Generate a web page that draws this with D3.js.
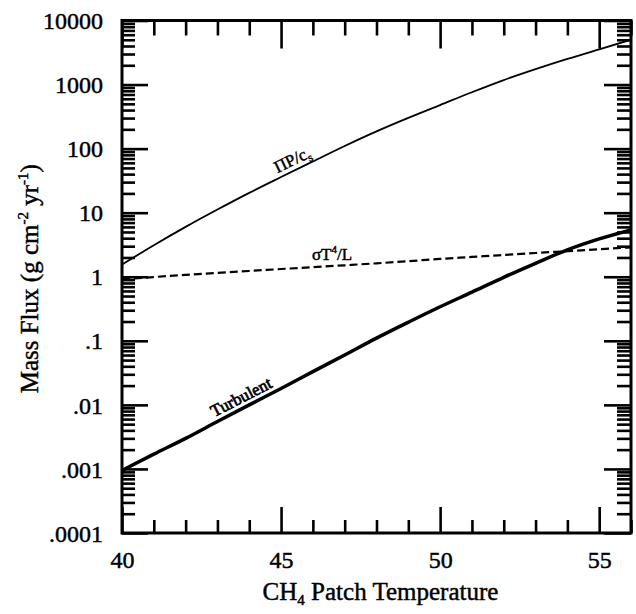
<!DOCTYPE html>
<html>
<head>
<meta charset="utf-8">
<script src="https://cdn.jsdelivr.net/npm/d3@7"></script>
<style>
  html, body { margin: 0; padding: 0; background: #fff; }
  svg { display: block; }
  text { font-family: "Liberation Serif", "Times New Roman", serif; fill: #000; stroke: #000; stroke-width: 0.45px; }
</style>
</head>
<body>
<svg id="chart" width="636" height="614"></svg>
<script>
// ---------------- data ----------------
const temps = [40, 41, 42, 43, 44, 45, 46, 47, 48, 49, 50, 51, 52, 53, 54, 55, 56];
const piPcs = [1.55, 3.1, 6.0, 11.2, 20.4, 36, 63, 110, 186, 302, 479, 759, 1175, 1738, 2512, 3548, 5012];
const sigmaT4L = [0.91, 0.99, 1.07, 1.15, 1.23, 1.32, 1.41, 1.51, 1.62, 1.75, 1.9, 2.04, 2.19, 2.35, 2.51, 2.69, 2.88];
const turbulent = [0.00095, 0.0017, 0.0030, 0.0055, 0.010, 0.018, 0.033, 0.060, 0.110, 0.195, 0.34, 0.575, 0.98, 1.62, 2.63, 3.9, 5.4];

const xMajor = [40, 45, 50, 55];
const xTickLabels = ["40", "45", "50", "55"];
const xMinor = [41, 42, 43, 44, 46, 47, 48, 49, 51, 52, 53, 54, 56];
const yMajor = [1e4, 1e3, 1e2, 1e1, 1, 1e-1, 1e-2, 1e-3, 1e-4];
const yTickLabels = ["10000", "1000", "100", "10", "1", ".1", ".01", ".001", ".0001"];
const yMinorMult = [2, 3, 4, 5, 6, 7, 8, 9];

// ---------------- layout ----------------
const svg = d3.select("#chart");
const L = 122, R = 631, T = 20.5, B = 533;
const x = d3.scaleLinear().domain([40, 56]).range([L, R]);
const y = d3.scaleLog().domain([1e-4, 1e4]).range([B, T]);

const yMinor = [];
yMajor.slice(1).forEach(d => yMinorMult.forEach(m => yMinor.push(d * m)));

const tickW = 2.6;
function styleAxis(g) {
  g.select(".domain").remove();
  g.selectAll("line").attr("stroke", "#000").attr("stroke-width", tickW);
  g.selectAll("text").attr("font-size", 24).attr("font-family", "Liberation Serif, serif").attr("fill", "#000");
}

// left axis (major with labels, minor)
svg.append("g").attr("transform", `translate(${L},0)`)
  .call(d3.axisLeft(y).tickValues(yMajor).tickSize(-26).tickSizeOuter(0).tickPadding(19)
    .tickFormat((d, i) => yTickLabels[yMajor.indexOf(d)]))
  .call(styleAxis)
  .selectAll("text").attr("dy", "0.34em");
svg.append("g").attr("transform", `translate(${L},0)`)
  .call(d3.axisLeft(y).tickValues(yMinor).tickSize(-13).tickSizeOuter(0).tickFormat(""))
  .call(styleAxis);
// right axis
svg.append("g").attr("transform", `translate(${R},0)`)
  .call(d3.axisRight(y).tickValues(yMajor).tickSize(-27).tickSizeOuter(0).tickFormat(""))
  .call(styleAxis);
svg.append("g").attr("transform", `translate(${R},0)`)
  .call(d3.axisRight(y).tickValues(yMinor).tickSize(-14).tickSizeOuter(0).tickFormat(""))
  .call(styleAxis);
// bottom axis
svg.append("g").attr("transform", `translate(0,${B})`)
  .call(d3.axisBottom(x).tickValues(xMajor).tickSize(-26).tickSizeOuter(0).tickPadding(18)
    .tickFormat(d => xTickLabels[xMajor.indexOf(d)]))
  .call(styleAxis);
svg.append("g").attr("transform", `translate(0,${B})`)
  .call(d3.axisBottom(x).tickValues(xMinor).tickSize(-13).tickSizeOuter(0).tickFormat(""))
  .call(styleAxis);
// top axis
svg.append("g").attr("transform", `translate(0,${T})`)
  .call(d3.axisTop(x).tickValues(xMajor).tickSize(-28).tickSizeOuter(0).tickFormat(""))
  .call(styleAxis);
svg.append("g").attr("transform", `translate(0,${T})`)
  .call(d3.axisTop(x).tickValues(xMinor).tickSize(-15).tickSizeOuter(0).tickFormat(""))
  .call(styleAxis);

// frame
svg.append("rect").attr("x", L).attr("y", T).attr("width", R - L).attr("height", B - T)
  .attr("fill", "none").attr("stroke", "#000").attr("stroke-width", 3);

// clip
svg.append("clipPath").attr("id", "clip").append("rect")
  .attr("x", L).attr("y", T).attr("width", R - L).attr("height", B - T);

const line = vals => d3.line().curve(d3.curveMonotoneX)
  .x((d, i) => x(temps[i])).y(d => y(d))(vals);

const plot = svg.append("g").attr("clip-path", "url(#clip)");
plot.append("path").attr("d", line(piPcs)).attr("fill", "none").attr("stroke", "#000").attr("stroke-width", 1.8);
plot.append("path").attr("d", line(sigmaT4L)).attr("fill", "none").attr("stroke", "#000").attr("stroke-width", 2.2)
  .attr("stroke-dasharray", "8,4");
plot.append("path").attr("d", line(turbulent)).attr("fill", "none").attr("stroke", "#000").attr("stroke-width", 3.5);

// curve labels placed along the curves
function interpLog(vals, t) {
  const i = Math.min(Math.floor(t - temps[0]), temps.length - 2);
  const f = t - temps[i];
  return Math.pow(10, Math.log10(vals[i]) * (1 - f) + Math.log10(vals[i + 1]) * f);
}
function labelAt(vals, t, offset, rotate) {
  const px = x(t), py = y(interpLog(vals, t));
  const p2x = x(t + 0.5), p2y = y(interpLog(vals, t + 0.5));
  const ang = rotate ? Math.atan2(p2y - py, p2x - px) * 180 / Math.PI : 0;
  const g = svg.append("g").attr("transform", `translate(${px},${py}) rotate(${ang}) translate(0,${-offset})`);
  return g.append("text").attr("text-anchor", "middle").attr("font-size", 17);
}
const t1 = labelAt(piPcs, 45.5, 5, true);
t1.append("tspan").text("ΠP/c");
t1.append("tspan").attr("font-size", 12).attr("dy", 4).text("s");

const t2 = labelAt(sigmaT4L, 46.6, 6, false);
t2.append("tspan").text("σT");
t2.append("tspan").attr("font-size", 11).attr("dy", -7).text("4");
t2.append("tspan").attr("dy", 7).text("/L");

const t3 = labelAt(turbulent, 43.9, 5, true);
t3.text("Turbulent").attr("font-size", 17).style("stroke-width", "0.7px");

// axis titles
const xt = svg.append("text").attr("x", x(48) + 4).attr("y", 600).attr("text-anchor", "middle").attr("font-size", 25);
xt.append("tspan").text("CH");
xt.append("tspan").attr("font-size", 15).attr("dy", 5).text("4");
xt.append("tspan").attr("dy", -5).text(" Patch Temperature");

const yt = svg.append("text").attr("transform", `translate(38,${(T + B) / 2 + 2}) rotate(-90)`)
  .attr("text-anchor", "middle").attr("font-size", 25);
yt.append("tspan").text("Mass Flux (g cm");
yt.append("tspan").attr("font-size", 15).attr("dy", -10).text("-2");
yt.append("tspan").attr("dy", 10).text(" yr");
yt.append("tspan").attr("font-size", 15).attr("dy", -10).text("-1");
yt.append("tspan").attr("dy", 10).text(")");
</script>
</body>
</html>
